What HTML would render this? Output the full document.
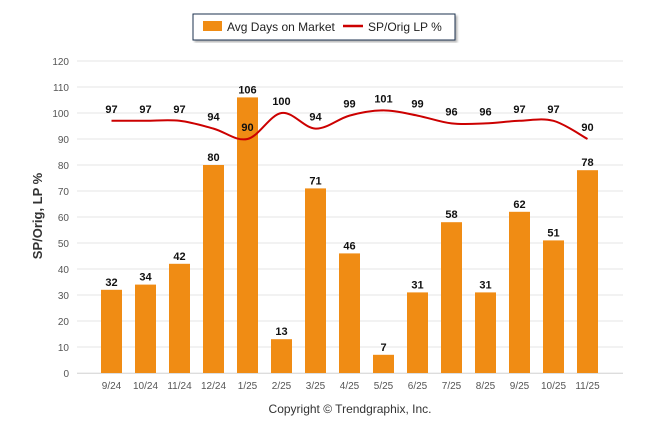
<!DOCTYPE html>
<html><head><meta charset="utf-8"><style>
body{margin:0;background:#fff;font-family:"Liberation Sans",sans-serif}
svg text{font-family:"Liberation Sans",sans-serif}
</style></head><body>
<svg width="646" height="434" xmlns="http://www.w3.org/2000/svg">
<defs><filter id="sh"><feDropShadow dx="2" dy="2" stdDeviation="1" flood-color="#888" flood-opacity="0.6"/></filter></defs>
<g>
<rect x="193" y="14" width="262" height="26" fill="#fff" stroke="#1f3050" stroke-width="1" filter="url(#sh)"/>
<rect x="203" y="21" width="19" height="10" fill="#f08c14"/>
<text x="227" y="31" font-size="12" fill="#222">Avg Days on Market</text>
<line x1="343" y1="26" x2="363" y2="26" stroke="#cc0000" stroke-width="2.5"/>
<text x="368" y="31" font-size="12" fill="#222">SP/Orig LP %</text>
</g>
<g id="grid"></g>
<g id="bars"></g>
<g id="line"></g>
<text transform="translate(42,216) rotate(-90)" text-anchor="middle" font-size="13" font-weight="bold" fill="#333">SP/Orig, LP %</text>
<text x="350" y="413" text-anchor="middle" font-size="12" fill="#333">Copyright © Trendgraphix, Inc.</text>
</svg>
<script>
const categories=["9/24","10/24","11/24","12/24","1/25","2/25","3/25","4/25","5/25","6/25","7/25","8/25","9/25","10/25","11/25"];
const daysOnMarket=[32,34,42,80,106,13,71,46,7,31,58,31,62,51,78];
const spOrigLP=[97,97,97,94,90,100,94,99,101,99,96,96,97,97,90];
const yTicks=[0,10,20,30,40,50,60,70,80,90,100,110,120];
const NS="http://www.w3.org/2000/svg";
const y=v=>373-v*26/10;
const x=i=>111.5+i*34;
function mk(t,a,p,txt){const e=document.createElementNS(NS,t);for(const k in a)e.setAttribute(k,a[k]);if(txt!==undefined)e.textContent=txt;p.appendChild(e);return e;}
const g=document.getElementById('grid');
yTicks.forEach(v=>{
 const l=mk('line',{x1:77,x2:623,y1:y(v),y2:y(v),stroke:'#e6e6e6','stroke-width':1},g);
 
 
 const t=mk('text',{x:69,y:y(v)+4,'text-anchor':'end','font-size':10,fill:'#555'},g,v);
 
 
});
mk('line',{x1:77,x2:623,y1:373.5,y2:373.5,stroke:'#ddd'},g);
const b=document.getElementById('bars');
categories.forEach((c,i)=>{
 const r=mk('rect',{x:x(i)-10.5,y:y(daysOnMarket[i]),width:21,height:373-y(daysOnMarket[i]),fill:'#f08c14'},b);
 
 
 const t=mk('text',{x:x(i),y:y(daysOnMarket[i])-4,'text-anchor':'middle','font-size':11,'font-weight':'bold',fill:'#111'},b,daysOnMarket[i]);
 
 
 const xl=mk('text',{x:x(i),y:389,'text-anchor':'middle','font-size':10,fill:'#555'},b,c);
 
 
});
const L=document.getElementById('line');
const pts=spOrigLP.map((v,i)=>[x(i),y(v)]);
let d='M'+pts[0][0]+','+pts[0][1];
for(let i=0;i<pts.length-1;i++){
 const p0=pts[Math.max(0,i-1)],p1=pts[i],p2=pts[i+1],p3=pts[Math.min(pts.length-1,i+2)];
 const k=0.17;
 d+=` C${p1[0]+(p2[0]-p0[0])*k},${p1[1]+(p2[1]-p0[1])*k} ${p2[0]-(p3[0]-p1[0])*k},${p2[1]-(p3[1]-p1[1])*k} ${p2[0]},${p2[1]}`;
}
const path=mk('path',{d:d,fill:'none',stroke:'#cc0000','stroke-width':2},L);


spOrigLP.forEach((v,i)=>{
 const t=mk('text',{x:x(i),y:y(v)-8,'text-anchor':'middle','font-size':11,'font-weight':'bold',fill:'#111'},L,v);
 
 
});
</script>
</body></html>
